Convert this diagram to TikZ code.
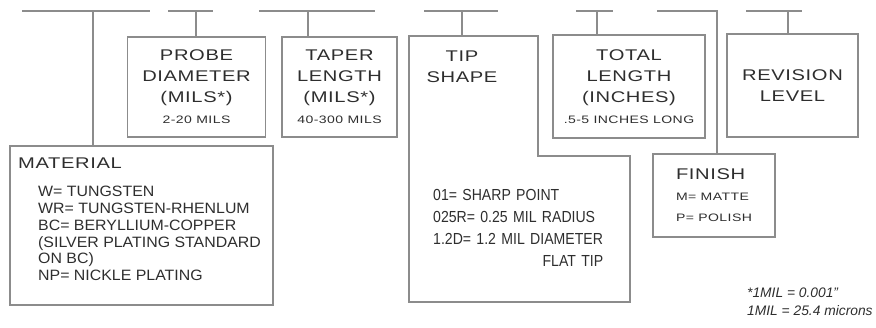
\documentclass[tikz,border=0pt]{standalone}
\usepackage{fontspec}
\setmainfont{Liberation Sans}
\newfontfamily\widefont[FakeStretch=1.3,LetterSpace=4]{Liberation Sans}
\newfontfamily\narrowfont[FakeStretch=0.88]{Liberation Sans}
\newfontfamily\itemfont[FakeStretch=1.06]{Liberation Sans}
\definecolor{ink}{HTML}{2E2E2E}
\definecolor{rule}{HTML}{8C8C8C}
\newcommand{\headsize}{\widefont\fontsize{15.5}{21}\selectfont}
\newcommand{\smallsize}{\widefont\fontsize{10.8}{21}\selectfont}

\begin{document}
\begin{tikzpicture}[x=1pt, y=-1pt,
    bar/.style={draw=rule, line width=1.8pt},
    part/.style={draw=rule, line width=1.8pt, inner sep=0pt, align=center,
      text=ink, font=\headsize},
    label/.style={inner sep=0pt, text=ink}]
    \useasboundingbox (0,0) rectangle (876,327);

    % Boxes of the part number, left to right.
    \node[part, minimum width=263, minimum height=159] (mat) at (141.5,225.5) {};
    \node[part, minimum width=138, minimum height=100] (probe) at (196.5,87)
      {PROBE\\DIAMETER\\(MILS*)\\{\smallsize 2-20 MILS}};
    \node[part, minimum width=115, minimum height=100] (taper) at (339.5,87)
      {TAPER\\LENGTH\\(MILS*)\\{\smallsize 40-300 MILS}};
    \node[part, minimum width=152, minimum height=103] (total) at (629,86.5)
      {TOTAL\\LENGTH\\(INCHES)\\{\smallsize .5-5 INCHES LONG}};
    \node[part, minimum width=131, minimum height=103] (rev) at (792.5,85.5)
      {REVISION\\LEVEL};
    \node[part, minimum width=122, minimum height=83, align=left] (fin) at (714,195.5)
      {FINISH\\{\smallsize M= MATTE}\\{\smallsize P= POLISH}};

    % Tip shape box (stepped outline).
    \draw[bar] (409,36) -- (538,36) -- (538,156) -- (630,156) -- (630,302)
      -- (409,302) -- cycle;
    \coordinate (tip) at (462,36);
    \node[label, align=center, font=\headsize] (tiphead) at (462,67) {TIP\\SHAPE};
    \node[label, anchor=north west, align=left, text width=170,
      font=\narrowfont\fontsize{16}{22.2}\selectfont] (tipitems) at (433,189)
      {01= SHARP POINT\\025R= 0.25 MIL RADIUS\\1.2D= 1.2 MIL DIAMETER\\
       \hspace*{\fill}FLAT TIP};

    % Material text.
    \node[label, anchor=west, font=\headsize] (mathead) at (18,163) {MATERIAL};
    \node[label, anchor=north west, align=left,
      font=\itemfont\fontsize{15}{16.8}\selectfont] (matitems) at (38,186)
      {W= TUNGSTEN\\WR= TUNGSTEN-RHENLUM\\BC= BERYLLIUM-COPPER\\
       (SILVER PLATING STANDARD\\ON BC)\\NP= NICKLE PLATING};

    % Bars and stems from the part number.
    \foreach \a/\b/\s/\n in {22/150/93/mat.north, 168/213/196/probe.north,
        259/375/308/taper.north, 424/498/462/tip, 576/613/597/total.north,
        746/802/788/rev.north} {
      \draw[bar] (\a,11) -- (\b,11);
      \draw[bar] (\s,11) -- (\s,11 |- \n);
    }
    \draw[bar] (657,11) -- (717,11) -- (717,11 |- fin.north);

    % Footnote.
    \node[label, anchor=north west, align=left,
      font=\itshape\fontsize{13.8}{18}\selectfont] (note) at (747,288)
      {*1MIL = 0.001"\\1MIL = 25.4 microns};
\end{tikzpicture}
\end{document}
